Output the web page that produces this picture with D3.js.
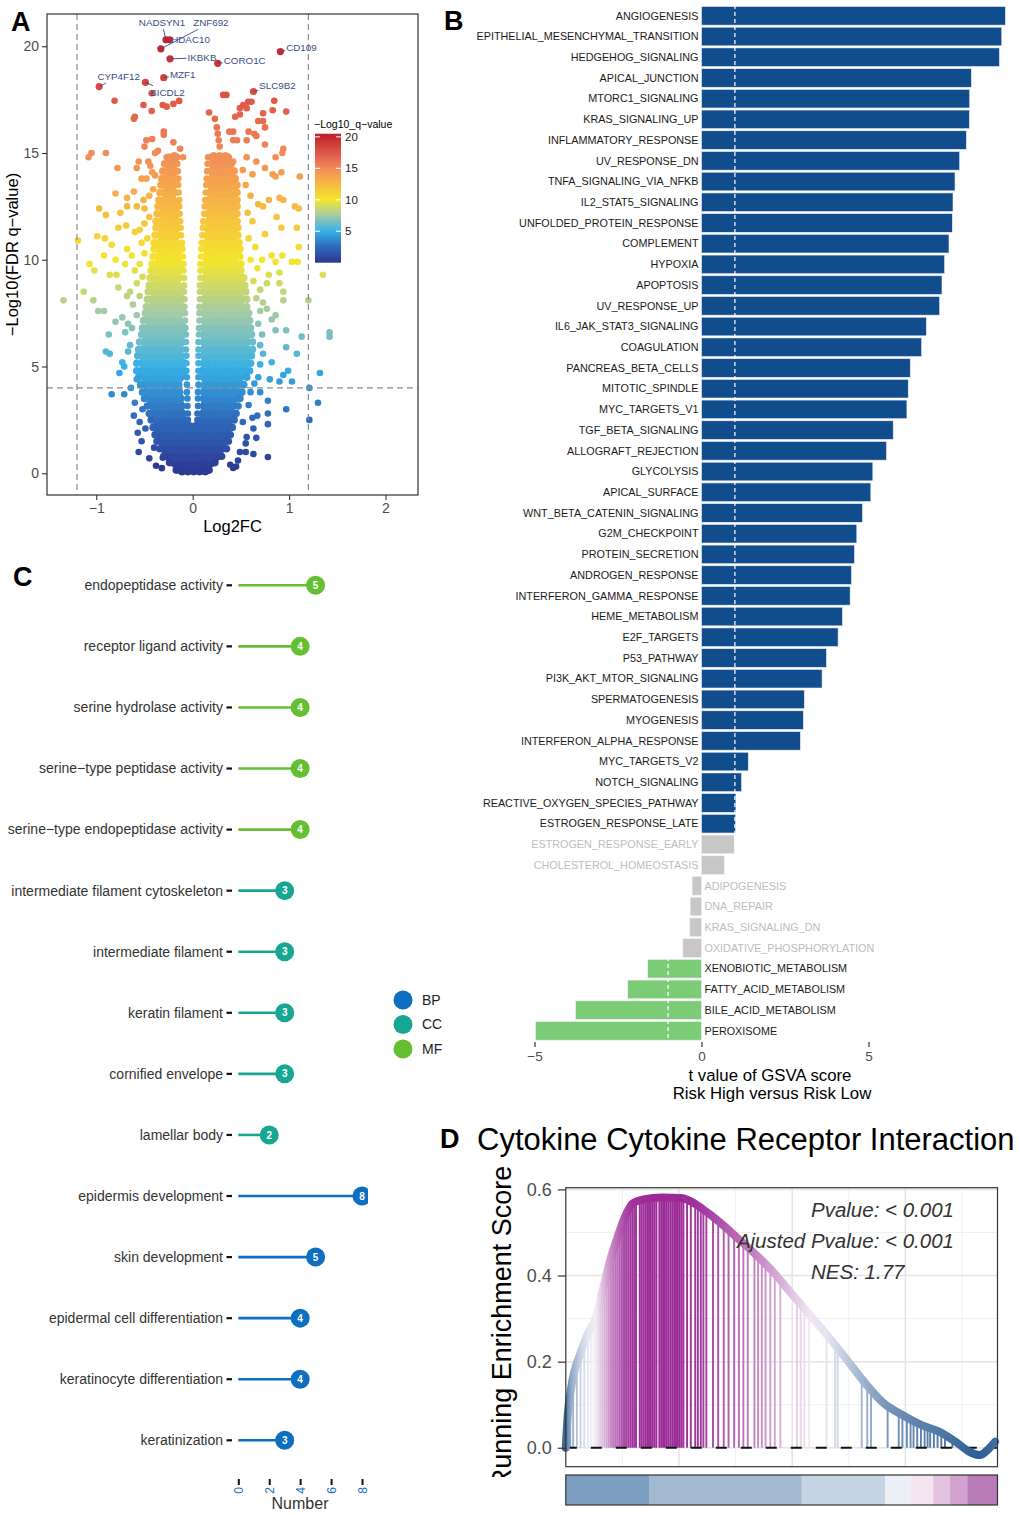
<!DOCTYPE html>
<html lang="en">
<head>
<meta charset="utf-8">
<title>Volcano, GSVA, GO lollipop and GSEA panels</title>
<script src="https://cdn.jsdelivr.net/npm/d3@7"></script>
<style>
  body { margin: 0; background: #fff; }
  svg { display: block; font-family: "Liberation Sans", Arial, sans-serif; }
</style>
</head>
<body>
<script>
// ================= DATA =================

// Panel A: volcano, [log2FC, -log10 q] (outlying points)
const volcanoSparse = [
  [-0.81,17.45],[-0.51,17.25],[-0.425,16.97],[-0.425,17.8],[-0.31,17.25],[-0.27,17.17],[-0.20,17.3],[-0.14,17.44],
  [-0.61,16.6],[-0.60,16.7],[-0.30,16.0],[-0.30,15.85],[-0.48,15.6],[-0.42,15.65],[-0.50,15.3],[-0.20,15.5],[-0.13,15.2],
  [-1.08,14.8],[-1.05,15.0],[-0.90,15.0],[-0.78,14.3],
  [0.17,16.9],[0.23,16.6],[0.25,16.2],[0.26,15.9],[0.27,15.6],
  [0.317,17.72],[0.35,17.72],[0.525,17.25],[0.576,17.4],[0.61,17.4],[0.56,17.1],[0.49,17.1],[0.44,16.7],[0.49,16.8],
  [0.68,16.5],[0.73,16.5],[0.75,16.2],[0.73,16.86],[0.846,17.45],[0.83,17.0],[0.97,16.94],
  [0.38,16.0],[0.42,16.0],[0.42,15.6],[0.46,15.6],[0.58,16.0],[0.64,15.9],[0.66,15.8],[0.56,15.6],[0.28,15.3],[0.75,15.4],
  [0.94,15.2],[0.93,15.0],[0.86,14.8],[1.11,13.9],
  [-0.58,14.3],[-0.53,13.8],[-0.56,14.6],[-0.46,14.6],[-0.48,13.8],[-0.41,13.3],[-0.51,12.8],[-0.58,12.5],[-0.68,12.5],
  [-0.75,12.2],[-0.80,13.1],[-0.68,12.9],[-0.61,13.2],[-0.97,12.4],[-0.90,12.1],[-0.69,11.6],[-0.77,11.5],[-0.60,11.3],
  [-0.84,10.7],[-0.99,11.1],[-0.91,11.0],[-1.19,10.9],[-0.68,10.5],[-0.92,10.2],[-0.80,10.0],[-0.63,10.2],[-1.07,9.8],
  [-1.02,9.5],[-0.86,9.3],[-0.79,9.3],[-0.70,9.8],[-1.13,8.5],[-0.77,8.7],[-0.68,8.3],[-1.03,8.1],[-1.34,8.1],[-0.98,7.6],
  [-0.92,7.6],[-0.80,7.1],[-0.73,7.3],[-0.70,6.6],[-0.87,6.5],[-0.67,7.0],[-0.90,5.7],[-0.86,5.6],[-0.65,6.0],[-0.67,5.7],
  [-0.76,4.7],[-0.71,5.0],[-0.73,5.2],[-0.84,3.7],[-0.71,3.7],[-0.61,2.7],[-0.52,3.0],[-0.57,1.9],[-0.49,2.1],[-0.56,1.0],
  [-0.40,1.2],[-0.32,0.24],[-0.31,0.73],
  [-0.36,15.1],[-0.39,15.0],[-0.27,14.8],[-0.17,14.8],[-0.10,14.8],[-0.42,14.1],[-0.39,13.95],
  [-0.45,12.0],[-0.50,11.7],[-0.47,11.0],[-0.53,10.8],[-0.50,10.3],[-0.55,9.8],[-0.52,9.2],[-0.58,8.9],[-0.55,8.3],
  [-0.62,7.9],[-0.58,7.4],[-0.63,6.8],[-0.45,13.0],[-0.50,12.4],[-0.44,14.4],[-0.55,11.4],[-0.60,9.5],[-0.65,8.5],
  [-0.55,2.4],[-0.53,1.5],[-0.45,0.7],[-0.38,0.35],[-0.60,3.3],[-0.64,4.0],[-0.58,4.4],
  [0.21,14.7],[0.31,14.8],[0.42,14.6],[0.56,14.8],[0.66,14.6],[0.75,14.3],[0.83,14.0],[0.86,13.9],[0.92,14.1],[0.90,12.9],
  [0.94,12.8],[0.79,12.8],[0.73,12.5],[0.87,12.0],[1.06,12.5],[1.10,12.4],[0.92,11.5],[1.08,11.5],[1.10,10.6],[0.82,10.2],
  [0.93,10.2],[0.86,9.9],[1.03,9.9],[1.09,9.9],[0.90,9.4],[1.35,9.3],[0.79,9.3],[0.90,8.9],[0.94,8.5],[0.94,8.1],[1.20,8.1],
  [0.73,8.0],[0.77,7.7],[0.86,7.4],[0.82,7.2],[0.97,6.7],[0.86,6.7],[1.13,6.4],[1.42,6.6],[1.42,6.4],[1.08,5.6],[0.97,5.9],
  [0.82,5.2],[0.99,4.8],[0.94,4.6],[0.90,4.3],[1.03,4.3],[1.32,4.7],[0.80,4.4],[1.21,4.0],[1.30,3.3],[0.97,3.0],[0.78,3.4],
  [0.78,2.8],[1.21,2.5],[0.78,2.3],[0.67,2.7],[0.63,2.1],[0.56,1.7],[0.49,1.0],[0.55,1.0],[0.63,0.9],[0.78,0.76],[0.45,0.32],
  [0.39,0.40],[0.66,1.66],[0.70,3.8],[0.68,4.5],[0.73,5.6],[0.70,5.1],
  [0.55,13.5],[0.60,13.0],[0.57,12.2],[0.62,11.8],[0.58,11.0],[0.65,10.6],[0.60,10.0],[0.67,9.6],[0.63,9.0],[0.70,8.6],
  [0.66,8.2],[0.70,7.6],[0.68,7.0],[0.72,6.5],[0.70,6.0],[0.52,14.2],[0.62,14.0],[0.68,12.6],[0.75,11.2],[0.72,10.0],[0.77,8.9],
  [0.58,3.2],[0.62,2.6],[0.52,2.4],[0.55,1.4],[0.47,0.6],[0.42,0.25],[0.60,3.8],[0.64,4.2]
];

// dense core of the volcano, one row per -log10 q level: "q  log2FC log2FC ..."
const volcanoCoreRows = [
  "0.15 -0.17 -0.11 -0.05 0.01 0.07 0.13 0.17",
  "0.5 -0.24 -0.18 -0.12 -0.06 0 0.06 0.12 0.18 0.23",
  "0.8 -0.30 -0.24 -0.18 -0.12 -0.06 0 0.06 0.12 0.18 0.24 0.30",
  "1.15 -0.34 -0.28 -0.21 -0.15 -0.09 -0.03 0.03 0.09 0.15 0.21 0.28 0.35",
  "1.5 -0.37 -0.31 -0.25 -0.19 -0.13 -0.06 0 0.06 0.12 0.19 0.25 0.31 0.37",
  "1.8 -0.39 -0.33 -0.26 -0.20 -0.13 -0.07 0 0.07 0.13 0.20 0.26 0.33 0.39",
  "2.15 -0.41 -0.35 -0.28 -0.22 -0.15 -0.09 -0.03 0.03 0.09 0.15 0.22 0.28 0.35 0.41",
  "2.5 -0.43 -0.37 -0.30 -0.24 -0.17 -0.11 -0.05 0.05 0.11 0.17 0.24 0.30 0.37 0.43",
  "2.8 -0.45 -0.38 -0.32 -0.25 -0.18 -0.12 -0.05 0.05 0.12 0.18 0.25 0.32 0.38 0.45",
  "3.15 -0.47 -0.40 -0.34 -0.27 -0.20 -0.13 -0.055 0.055 0.13 0.20 0.27 0.34 0.40 0.47",
  "3.5 -0.50 -0.43 -0.36 -0.29 -0.22 -0.14 -0.055 0.055 0.13 0.21 0.28 0.35 0.42 0.49",
  "3.8 -0.52 -0.45 -0.38 -0.31 -0.23 -0.15 -0.06 0.055 0.13 0.21 0.29 0.36 0.44 0.51",
  "4.15 -0.54 -0.47 -0.40 -0.32 -0.24 -0.16 -0.06 0.06 0.14 0.22 0.30 0.38 0.45 0.53",
  "4.5 -0.56 -0.49 -0.42 -0.35 -0.28 -0.21 -0.14 -0.06 0.06 0.13 0.20 0.27 0.34 0.41 0.48 0.56",
  "4.8 -0.58 -0.51 -0.44 -0.37 -0.30 -0.23 -0.17 -0.11 -0.065 0.06 0.12 0.19 0.26 0.33 0.40 0.47 0.53 0.59",
  "5.15 -0.58 -0.51 -0.44 -0.37 -0.30 -0.23 -0.17 -0.11 -0.065 0.06 0.13 0.20 0.27 0.34 0.41 0.48 0.54 0.60",
  "5.5 -0.57 -0.50 -0.43 -0.36 -0.29 -0.22 -0.14 -0.065 0.06 0.13 0.20 0.27 0.34 0.41 0.48 0.55 0.61",
  "5.8 -0.56 -0.49 -0.42 -0.35 -0.28 -0.21 -0.14 -0.07 0.06 0.13 0.20 0.27 0.34 0.41 0.48 0.55 0.62",
  "6.15 -0.55 -0.48 -0.41 -0.34 -0.27 -0.20 -0.13 -0.07 0.06 0.13 0.20 0.27 0.34 0.41 0.48 0.55 0.62",
  "6.5 -0.53 -0.46 -0.39 -0.32 -0.25 -0.18 -0.12 -0.07 0.065 0.13 0.20 0.27 0.34 0.41 0.48 0.55 0.61",
  "6.8 -0.52 -0.45 -0.38 -0.31 -0.24 -0.17 -0.11 -0.075 0.065 0.13 0.20 0.27 0.34 0.41 0.48 0.54 0.60",
  "7.15 -0.51 -0.44 -0.37 -0.30 -0.23 -0.16 -0.08 0.07 0.14 0.21 0.28 0.35 0.42 0.49 0.55 0.59",
  "7.5 -0.49 -0.42 -0.35 -0.28 -0.21 -0.14 -0.08 0.07 0.14 0.21 0.28 0.35 0.42 0.49 0.55 0.58",
  "7.8 -0.48 -0.41 -0.34 -0.27 -0.20 -0.14 -0.085 0.07 0.14 0.21 0.28 0.35 0.42 0.49 0.56",
  "8.15 -0.47 -0.40 -0.33 -0.26 -0.19 -0.13 -0.085 0.075 0.14 0.21 0.28 0.35 0.42 0.49 0.56",
  "8.5 -0.46 -0.39 -0.32 -0.25 -0.18 -0.13 -0.09 0.075 0.14 0.21 0.28 0.35 0.42 0.49 0.55",
  "8.8 -0.45 -0.38 -0.31 -0.24 -0.17 -0.09 0.075 0.14 0.21 0.28 0.35 0.42 0.49 0.54",
  "9.15 -0.44 -0.37 -0.30 -0.23 -0.16 -0.09 0.08 0.15 0.22 0.29 0.36 0.43 0.49 0.53",
  "9.5 -0.43 -0.36 -0.29 -0.22 -0.16 -0.095 0.08 0.15 0.22 0.29 0.36 0.43 0.50",
  "9.8 -0.42 -0.35 -0.28 -0.21 -0.15 -0.095 0.08 0.15 0.22 0.29 0.36 0.43 0.50",
  "10.15 -0.41 -0.34 -0.27 -0.20 -0.15 -0.10 0.085 0.15 0.22 0.29 0.36 0.43 0.49",
  "10.5 -0.40 -0.33 -0.26 -0.20 -0.15 -0.105 0.09 0.16 0.23 0.30 0.37 0.43 0.49",
  "10.8 -0.40 -0.33 -0.26 -0.19 -0.11 0.095 0.16 0.23 0.30 0.37 0.43 0.48",
  "11.15 -0.39 -0.32 -0.25 -0.18 -0.12 0.10 0.17 0.24 0.31 0.37 0.43 0.47",
  "11.5 -0.38 -0.31 -0.24 -0.18 -0.125 0.105 0.17 0.24 0.31 0.37 0.43 0.47",
  "11.8 -0.38 -0.31 -0.24 -0.18 -0.13 0.11 0.18 0.25 0.31 0.37 0.42 0.46",
  "12.15 -0.37 -0.30 -0.23 -0.18 -0.135 0.12 0.18 0.25 0.31 0.37 0.42 0.46",
  "12.5 -0.36 -0.29 -0.23 -0.18 -0.14 0.125 0.19 0.25 0.31 0.37 0.42 0.46",
  "12.8 -0.35 -0.28 -0.22 -0.14 0.13 0.19 0.25 0.31 0.37 0.42 0.46",
  "13.15 -0.34 -0.27 -0.21 -0.145 0.135 0.20 0.26 0.32 0.38 0.43 0.46",
  "13.5 -0.33 -0.27 -0.21 -0.15 0.14 0.20 0.26 0.32 0.38 0.43 0.46",
  "13.8 -0.32 -0.26 -0.21 -0.15 0.145 0.21 0.27 0.33 0.39 0.44",
  "14.15 -0.31 -0.25 -0.20 -0.155 0.15 0.21 0.27 0.33 0.39 0.43",
  "14.5 -0.29 -0.23 -0.16 0.155 0.22 0.28 0.34 0.40",
  "14.8 -0.25 -0.19 -0.16 0.16 0.22 0.28 0.34 0.37"
];

const labeledGenes = [
  {gene: "NADSYN1", log2fc: -0.277, q: 20.3},
  {gene: "HDAC10",  log2fc: -0.24,  q: 20.3},
  {gene: "ZNF692",  log2fc: -0.33,  q: 19.88},
  {gene: "IKBKB",   log2fc: -0.235, q: 19.41},
  {gene: "CORO1C",  log2fc: 0.26,   q: 19.2},
  {gene: "CD109",   log2fc: 0.91,   q: 19.75},
  {gene: "MZF1",    log2fc: -0.30,  q: 18.53},
  {gene: "CYP4F12", log2fc: -0.97,  q: 18.11},
  {gene: "BICDL2",  log2fc: -0.49,  q: 18.31},
  {gene: "SLC9B2",  log2fc: 0.63,   q: 17.88}
];
const volcanoXTicks = [-1, 0, 1, 2];
const volcanoYTicks = [0, 5, 10, 15, 20];
const qLegendTicks = [5, 10, 15, 20];

// Panel B: hallmark GSVA t values
const hallmarks = ["ANGIOGENESIS","EPITHELIAL_MESENCHYMAL_TRANSITION","HEDGEHOG_SIGNALING","APICAL_JUNCTION",
  "MTORC1_SIGNALING","KRAS_SIGNALING_UP","INFLAMMATORY_RESPONSE","UV_RESPONSE_DN","TNFA_SIGNALING_VIA_NFKB",
  "IL2_STAT5_SIGNALING","UNFOLDED_PROTEIN_RESPONSE","COMPLEMENT","HYPOXIA","APOPTOSIS","UV_RESPONSE_UP",
  "IL6_JAK_STAT3_SIGNALING","COAGULATION","PANCREAS_BETA_CELLS","MITOTIC_SPINDLE","MYC_TARGETS_V1",
  "TGF_BETA_SIGNALING","ALLOGRAFT_REJECTION","GLYCOLYSIS","APICAL_SURFACE","WNT_BETA_CATENIN_SIGNALING",
  "G2M_CHECKPOINT","PROTEIN_SECRETION","ANDROGEN_RESPONSE","INTERFERON_GAMMA_RESPONSE","HEME_METABOLISM",
  "E2F_TARGETS","P53_PATHWAY","PI3K_AKT_MTOR_SIGNALING","SPERMATOGENESIS","MYOGENESIS",
  "INTERFERON_ALPHA_RESPONSE","MYC_TARGETS_V2","NOTCH_SIGNALING","REACTIVE_OXYGEN_SPECIES_PATHWAY",
  "ESTROGEN_RESPONSE_LATE","ESTROGEN_RESPONSE_EARLY","CHOLESTEROL_HOMEOSTASIS","ADIPOGENESIS","DNA_REPAIR",
  "KRAS_SIGNALING_DN","OXIDATIVE_PHOSPHORYLATION","XENOBIOTIC_METABOLISM","FATTY_ACID_METABOLISM",
  "BILE_ACID_METABOLISM","PEROXISOME"];
const tValues = [9.10,8.99,8.92,8.08,8.03,8.02,7.93,7.73,7.59,7.53,7.51,7.41,7.28,7.20,7.13,6.73,6.59,6.25,6.19,6.15,
  5.74,5.54,5.13,5.07,4.82,4.65,4.58,4.49,4.45,4.22,4.09,3.74,3.61,3.08,3.05,2.96,1.40,1.20,1.03,1.02,
  0.98,0.68,-0.28,-0.34,-0.35,-0.56,-1.61,-2.21,-3.77,-4.97];
const tGroup = [].concat(Array(40).fill("up"), Array(6).fill("ns"), Array(4).fill("down"));
const tCutoff = 1;
const tTicks = [-5, 0, 5];

// Panel C: GO terms
const goTerms = ["endopeptidase activity","receptor ligand activity","serine hydrolase activity",
  "serine\u2212type peptidase activity","serine\u2212type endopeptidase activity",
  "intermediate filament cytoskeleton","intermediate filament","keratin filament","cornified envelope",
  "lamellar body","epidermis development","skin development","epidermal cell differentiation",
  "keratinocyte differentiation","keratinization"];
const goCounts = [5,4,4,4,4,3,3,3,3,2,8,5,4,4,3];
const goOntology = ["MF","MF","MF","MF","MF","CC","CC","CC","CC","CC","BP","BP","BP","BP","BP"];
const ontologies = ["BP","CC","MF"];
const countTicks = [0, 2, 4, 6, 8];

// Panel D: GSEA running enrichment score
const gseaRank = [0,80,240,650,980,1310,1630,1960,2290,2610,2940,3430,4250,5070,5560,6210,6860,7520,8340,9150,
  9970,10790,11600,12420,13240,14050,14870,15690,16510,17320,17810,18300,18630,18960];
const gseaES = [0,0.072,0.14,0.22,0.265,0.30,0.366,0.436,0.49,0.536,0.567,0.577,0.581,0.580,0.571,0.548,0.521,
  0.49,0.451,0.409,0.358,0.308,0.258,0.204,0.149,0.103,0.076,0.053,0.037,0.010,-0.009,-0.017,-0.005,0.014];
const gseaHits = [80,195,325,489,652,816,979,1110,1224,1306,1388,1469,1551,1633,1714,1796,1878,1959,2041,2123,
  2205,2286,2368,2450,2531,2613,2695,2776,2858,2940,3022,3103,3267,3348,3430,3512,3593,3675,3757,3839,3920,4002,
  4132,4214,4296,4377,4459,4541,4623,4704,4786,4868,4950,5031,5113,5195,5358,5522,5717,5832,5963,6077,6208,6502,
  6731,6976,7188,7433,7646,7842,8038,8332,8495,8659,8822,9035,9231,9476,10211,10375,10538,10751,11519,11895,12009,
  13071,13316,13480,14215,14705,14868,15065,15228,15359,15522,15686,15849,15980,16094,16258,16421,16585,16748,17075];
const geneListSize = 19068;
const rankBreaks = [0,3675,10424,14104,15230,16228,16962,17730,19068];
const rankBandColors = ["#7c9fc1","#a3b9d1","#c6d5e3","#eceff5","#f4e5f1","#e3c3e0","#d3a2cf","#b97cb8"];
const esTicks = [0, 0.2, 0.4, 0.6];
const gseaStats = {p: "Pvalue: < 0.001", padj: "Ajusted Pvalue: < 0.001", nes: "NES: 1.77"};
const gseaTitle = "Cytokine Cytokine Receptor Interaction";

// ================= DRAWING =================
const svg = d3.select("body").append("svg").attr("width", 1020).attr("height", 1515);
const defs = svg.append("defs");

function panelLetter(t, x, y) {
  svg.append("text").attr("x", x).attr("y", y).attr("font-size", 27).attr("font-weight", "bold").text(t);
}

// ---------- A: volcano ----------
const xA = d3.scaleLinear().domain([-1.511, 2.337]).range([47, 418]);
const yA = d3.scaleLinear().domain([-1.017, 21.51]).range([495, 14]);
const qColor = d3.scaleLinear()
  .domain([0, 2.5, 5, 7.5, 10, 12.5, 15, 17.5, 20])
  .range(["#2d3691","#2f68ba","#37b0e6","#a3caa9","#f4e62c","#f7b944","#f18b5a","#de5647","#c0262d"])
  .clamp(true);

defs.append("clipPath").attr("id", "clipA").append("rect")
  .attr("x", 47).attr("y", 14).attr("width", 371).attr("height", 481);

const gA = svg.append("g").attr("clip-path", "url(#clipA)");

// core points: rim points of each wing are drawn normal size, the inside ones larger so the mass reads solid
const corePts = [];
volcanoCoreRows.forEach(r => {
  const v = r.trim().split(/\s+/).map(Number);
  const q = v[0], xs = v.slice(1);
  const hasGap = xs.some(x => x < 0) && xs.some(x => x > 0) && !xs.some(x => Math.abs(x) < 0.045);
  xs.forEach((x, i) => {
    let rim = (i === 0 || i === xs.length - 1) ? "outer" : null;
    if (hasGap && ((x < 0 && xs[i + 1] > 0) || (x > 0 && xs[i - 1] < 0))) rim = "inner";
    corePts.push({x: x, q: q, rim: rim});
  });
});
const coreR = {outer: 3.8, inner: 3.3};

gA.selectAll("circle.core").data(corePts.filter(d => !d.rim)).join("circle").attr("class", "core")
  .attr("cx", d => xA(d.x)).attr("cy", d => yA(d.q)).attr("r", 5.3)
  .attr("fill", d => qColor(d.q));
gA.selectAll("circle.rim").data(corePts.filter(d => d.rim)).join("circle").attr("class", "rim")
  .attr("cx", d => xA(d.x)).attr("cy", d => yA(d.q)).attr("r", d => coreR[d.rim])
  .attr("fill", d => qColor(d.q));
gA.selectAll("circle.sp").data(volcanoSparse).join("circle").attr("class", "sp")
  .attr("cx", d => xA(d[0])).attr("cy", d => yA(d[1])).attr("r", 3.3)
  .attr("fill", d => qColor(d[1]));

// threshold lines
gA.append("line").attr("x1", xA(-1.2)).attr("x2", xA(-1.2)).attr("y1", 14).attr("y2", 495);
gA.append("line").attr("x1", xA(1.2)).attr("x2", xA(1.2)).attr("y1", 14).attr("y2", 495);
gA.append("line").attr("x1", 47).attr("x2", 418).attr("y1", yA(4)).attr("y2", yA(4));
gA.selectAll("line").attr("stroke", "#8a8a8a").attr("stroke-width", 1.2).attr("stroke-dasharray", "6,4");

gA.selectAll("circle.lab").data(labeledGenes).join("circle").attr("class", "lab")
  .attr("cx", d => xA(d.log2fc)).attr("cy", d => yA(d.q)).attr("r", 3.6)
  .attr("fill", d => qColor(d.q));

// repel-style label placement (pixel nudges)
const labelNudge = {NADSYN1: [-4, -17], HDAC10: [21, 0], ZNF692: [50, -26], IKBKB: [32, -1], CORO1C: [27, -3],
  CD109: [21, -4], MZF1: [19, -3], CYP4F12: [19.5, -10], BICDL2: [22, 10], SLC9B2: [24, -6]};
labeledGenes.forEach(d => {
  const px = xA(d.log2fc), py = yA(d.q);
  const cx = px + labelNudge[d.gene][0], cy = py + labelNudge[d.gene][1];
  const t = svg.append("text").attr("x", cx).attr("y", cy).attr("dy", "0.35em")
    .attr("text-anchor", "middle").attr("font-size", 9.8).attr("fill", "#3a4d86").text(d.gene);
  const b = t.node().getBBox();
  const bx = b.x + b.width / 2, by = b.y + b.height / 2;
  const dx = px - bx, dy = py - by;
  const s = Math.min(dx ? (b.width / 2 + 1) / Math.abs(dx) : Infinity, dy ? (b.height / 2 + 1) / Math.abs(dy) : Infinity);
  if (s < 0.85) {
    svg.append("line").attr("x1", bx + dx * s).attr("y1", by + dy * s).attr("x2", px).attr("y2", py)
      .attr("stroke", "#3a4d86").attr("stroke-width", 0.9);
  }
});

svg.append("rect").attr("x", 47).attr("y", 14).attr("width", 371).attr("height", 481)
  .attr("fill", "none").attr("stroke", "#333").attr("stroke-width", 1.2);

const axA_x = svg.append("g").attr("transform", "translate(0,495)")
  .call(d3.axisBottom(xA).tickValues(volcanoXTicks).tickFormat(d3.format("d")).tickSize(5).tickPadding(3));
const axA_y = svg.append("g").attr("transform", "translate(47,0)")
  .call(d3.axisLeft(yA).tickValues(volcanoYTicks).tickSize(5).tickPadding(3));
[axA_x, axA_y].forEach(g => {
  g.select(".domain").remove();
  g.selectAll("line").attr("stroke", "#333").attr("stroke-width", 1.1);
  g.selectAll("text").attr("font-size", 14).attr("fill", "#4d4d4d").attr("font-family", null);
});
svg.append("text").attr("x", 232.5).attr("y", 532).attr("text-anchor", "middle").attr("font-size", 16.5).text("Log2FC");
svg.append("text").attr("transform", "translate(18,254.5) rotate(-90)").attr("text-anchor", "middle")
  .attr("font-size", 16.5).text("\u2212Log10(FDR q\u2212value)");

// colour bar legend
const qLeg = d3.scaleLinear().domain([0, 20.5]).range([262.7, 133.7]);
const grad = defs.append("linearGradient").attr("id", "qgrad").attr("x1", 0).attr("x2", 0).attr("y1", 1).attr("y2", 0);
d3.range(0, 20.51, 0.5).forEach(v => grad.append("stop").attr("offset", v / 20.5).attr("stop-color", qColor(v)));
svg.append("rect").attr("x", 315).attr("y", 133.7).attr("width", 26).attr("height", 129).attr("fill", "url(#qgrad)");
qLegendTicks.forEach(v => {
  [[315, 320], [336, 341]].forEach(s => svg.append("line").attr("x1", s[0]).attr("x2", s[1])
    .attr("y1", qLeg(v)).attr("y2", qLeg(v)).attr("stroke", "#fff").attr("stroke-width", 1));
  svg.append("text").attr("x", 345).attr("y", qLeg(v)).attr("dy", "0.35em").attr("font-size", 11.5)
    .attr("fill", "#222").text(v);
});
svg.append("text").attr("x", 314).attr("y", 128).attr("font-size", 10.5).text("\u2212Log10_q\u2212value");
panelLetter("A", 11, 31);

// ---------- B: GSVA bars ----------
const xB = d3.scaleLinear().domain([-5, 5]).range([534.5, 868.5]);
const yB = d3.scaleBand().domain(hallmarks).range([5.45, 1041.2]).paddingInner(0.1).paddingOuter(0.05);
const barFill = {up: "#114d8c", ns: "#c9c6c6", down: "#7bcb77"};
const labFill = {up: "#1a1a1a", ns: "#bdbdbd", down: "#1a1a1a"};
const gsva = hallmarks.map((h, i) => ({name: h, t: tValues[i], g: tGroup[i]}));

svg.append("g").selectAll("rect").data(gsva).join("rect")
  .attr("x", d => xB(Math.min(0, d.t))).attr("width", d => Math.abs(xB(d.t) - xB(0)))
  .attr("y", d => yB(d.name)).attr("height", yB.bandwidth())
  .attr("fill", d => barFill[d.g]).attr("stroke", "#eef2f8").attr("stroke-width", 0.6);

[-tCutoff, tCutoff].forEach(v => svg.append("line").attr("x1", xB(v)).attr("x2", xB(v))
  .attr("y1", 5).attr("y2", 1041).attr("stroke", "#fff").attr("stroke-width", 1.2).attr("stroke-dasharray", "4,3"));

svg.append("g").selectAll("text").data(gsva).join("text")
  .attr("x", d => d.t >= 0 ? xB(0) - 3 : xB(0) + 3)
  .attr("y", d => yB(d.name) + yB.bandwidth() / 2).attr("dy", "0.35em")
  .attr("text-anchor", d => d.t >= 0 ? "end" : "start")
  .attr("font-size", 10.8).attr("fill", d => labFill[d.g]).text(d => d.name);

const axB = svg.append("g").attr("transform", "translate(0,1042)")
  .call(d3.axisBottom(xB).tickValues(tTicks).tickSize(5).tickPadding(4));
axB.select(".domain").remove();
axB.selectAll("line").attr("stroke", "#333").attr("stroke-width", 1.2);
axB.selectAll("text").attr("font-size", 13.5).attr("fill", "#4d4d4d").attr("font-family", null);
svg.append("text").attr("x", 770).attr("y", 1081).attr("text-anchor", "middle").attr("font-size", 16.8)
  .text("t value of GSVA score");
svg.append("text").attr("x", 772).attr("y", 1099).attr("text-anchor", "middle").attr("font-size", 16.8)
  .text("Risk High versus Risk Low");
panelLetter("B", 444, 30);

// ---------- C: GO lollipop ----------
const xC = d3.scaleLinear().domain([0, 8]).range([238.3, 362]);
const yC = d3.scalePoint().domain(goTerms).range([585.3, 1440.3]);
const ontColor = d3.scaleOrdinal().domain(ontologies).range(["#0e6ebf", "#17a691", "#64bf32"]);
const go = goTerms.map((t, i) => ({term: t, n: goCounts[i], ont: goOntology[i]}));

defs.append("clipPath").attr("id", "clipC").append("rect")
  .attr("x", 230).attr("y", 560).attr("width", 138).attr("height", 900);
const gC = svg.append("g").attr("clip-path", "url(#clipC)");
gC.selectAll("line").data(go).join("line")
  .attr("x1", xC(0)).attr("x2", d => xC(d.n)).attr("y1", d => yC(d.term)).attr("y2", d => yC(d.term))
  .attr("stroke", d => ontColor(d.ont)).attr("stroke-width", 2.6);
gC.selectAll("circle").data(go).join("circle")
  .attr("cx", d => xC(d.n)).attr("cy", d => yC(d.term)).attr("r", 9.5).attr("fill", d => ontColor(d.ont));
gC.selectAll("text").data(go).join("text")
  .attr("x", d => xC(d.n)).attr("y", d => yC(d.term)).attr("dy", "0.36em").attr("text-anchor", "middle")
  .attr("font-size", 10).attr("font-weight", "bold").attr("fill", "#fff").text(d => d.n);

svg.append("g").selectAll("line").data(go).join("line")
  .attr("x1", 226.5).attr("x2", 232).attr("y1", d => yC(d.term)).attr("y2", d => yC(d.term))
  .attr("stroke", "#111").attr("stroke-width", 2.2);
svg.append("g").selectAll("text").data(go).join("text")
  .attr("x", 223).attr("y", d => yC(d.term)).attr("dy", "0.35em").attr("text-anchor", "end")
  .attr("font-size", 14).attr("fill", "#333").text(d => d.term);

const axC = svg.append("g").attr("transform", "translate(0,1479)")
  .call(d3.axisBottom(xC).tickValues(countTicks).tickSize(6).tickPadding(2));
axC.select(".domain").remove();
axC.selectAll("line").attr("stroke", "#111").attr("stroke-width", 2);
axC.selectAll("text").attr("font-size", 12).attr("fill", "#1a6fbe").attr("font-family", null)
  .attr("text-anchor", "end").attr("dy", "0.35em").attr("y", 0)
  .attr("transform", "translate(0,8) rotate(-90)");
svg.append("text").attr("x", 300).attr("y", 1509).attr("text-anchor", "middle").attr("font-size", 16)
  .attr("fill", "#333").text("Number");

ontologies.forEach((o, i) => {
  const cy = 1000 + i * 24.5;
  svg.append("circle").attr("cx", 403).attr("cy", cy).attr("r", 9.5).attr("fill", ontColor(o));
  svg.append("text").attr("x", 422).attr("y", cy).attr("dy", "0.35em").attr("font-size", 14).attr("fill", "#222").text(o);
});
panelLetter("C", 13, 586);

// ---------- D: GSEA ----------
const xD = d3.scaleLinear().domain([0, geneListSize]).range([565.8, 997.5]);
const yD = d3.scaleLinear().domain([-0.044, 0.604]).range([1466.7, 1187.7]);
const esColor = d3.scaleLinear().domain([-0.02, 0.29, 0.58]).range(["#2c5d95", "#f6f3f8", "#9b2a97"]).clamp(true);

svg.append("rect").attr("x", 565.8).attr("y", 1187.7).attr("width", 431.7).attr("height", 279).attr("fill", "#fff");
const gGrid = svg.append("g");
[0.1, 0.3, 0.5].forEach(v => gGrid.append("line").attr("x1", 565.8).attr("x2", 997.5)
  .attr("y1", yD(v)).attr("y2", yD(v)).attr("stroke", "#ececec").attr("stroke-width", 0.8));
[2500, 7500, 12500, 17500].forEach(v => gGrid.append("line").attr("x1", xD(v)).attr("x2", xD(v))
  .attr("y1", 1187.7).attr("y2", 1466.7).attr("stroke", "#ececec").attr("stroke-width", 0.8));
esTicks.forEach(v => gGrid.append("line").attr("x1", 565.8).attr("x2", 997.5)
  .attr("y1", yD(v)).attr("y2", yD(v)).attr("stroke", "#e4e4e4").attr("stroke-width", 1.5));
[5000, 10000, 15000].forEach(v => gGrid.append("line").attr("x1", xD(v)).attr("x2", xD(v))
  .attr("y1", 1187.7).attr("y2", 1466.7).attr("stroke", "#e4e4e4").attr("stroke-width", 1.5));

function esAt(r) {
  const i = d3.bisectLeft(gseaRank, r);
  if (i <= 0) return gseaES[0];
  if (i >= gseaRank.length) return gseaES[gseaES.length - 1];
  const f = (r - gseaRank[i - 1]) / (gseaRank[i] - gseaRank[i - 1]);
  return gseaES[i - 1] + f * (gseaES[i] - gseaES[i - 1]);
}
svg.append("g").selectAll("line").data(gseaHits).join("line")
  .attr("x1", d => xD(d)).attr("x2", d => xD(d)).attr("y1", yD(0)).attr("y2", d => yD(esAt(d)))
  .attr("stroke", d => esColor(esAt(d))).attr("stroke-width", 1.9);

svg.append("line").attr("x1", 565.8).attr("x2", 997.5).attr("y1", yD(0)).attr("y2", yD(0))
  .attr("stroke", "#111").attr("stroke-width", 2).attr("stroke-dasharray", "11,14");

const esGrad = defs.append("linearGradient").attr("id", "esgrad").attr("gradientUnits", "userSpaceOnUse")
  .attr("x1", xD(0)).attr("x2", xD(geneListSize)).attr("y1", 0).attr("y2", 0);
gseaRank.forEach((r, i) => esGrad.append("stop").attr("offset", r / geneListSize).attr("stop-color", esColor(gseaES[i])));
const esLine = d3.line().x(d => xD(d[0])).y(d => yD(d[1])).curve(d3.curveMonotoneX);
svg.append("path").datum(gseaRank.map((r, i) => [r, gseaES[i]])).attr("d", esLine)
  .attr("fill", "none").attr("stroke", "url(#esgrad)").attr("stroke-width", 8).attr("stroke-linecap", "round");

svg.append("rect").attr("x", 565.8).attr("y", 1187.7).attr("width", 431.7).attr("height", 279)
  .attr("fill", "none").attr("stroke", "#333").attr("stroke-width", 1.2);

svg.append("text").attr("x", 954).attr("y", 1217).attr("text-anchor", "end").attr("font-size", 20.5)
  .attr("font-style", "italic").attr("fill", "#333").text(gseaStats.p);
svg.append("text").attr("x", 954).attr("y", 1248).attr("text-anchor", "end").attr("font-size", 20.5)
  .attr("font-style", "italic").attr("fill", "#333").text(gseaStats.padj);
svg.append("text").attr("x", 811).attr("y", 1279).attr("font-size", 20.5)
  .attr("font-style", "italic").attr("fill", "#333").text(gseaStats.nes);

const axD = svg.append("g").attr("transform", "translate(565.8,0)")
  .call(d3.axisLeft(yD).tickValues(esTicks).tickFormat(d3.format(".1f")).tickSize(8).tickPadding(6));
axD.select(".domain").remove();
axD.selectAll("line").attr("stroke", "#333").attr("stroke-width", 1.2);
axD.selectAll("text").attr("font-size", 18).attr("fill", "#4d4d4d").attr("font-family", null);

// y title of the GSEA panel, cut off at the bottom as in the figure
defs.append("clipPath").attr("id", "clipDt").append("rect")
  .attr("x", 470).attr("y", 1150).attr("width", 60).attr("height", 327);
svg.append("g").attr("clip-path", "url(#clipDt)")
  .append("text").attr("transform", "translate(511,1327) rotate(-90)").attr("text-anchor", "middle")
  .attr("font-size", 27).text("Running Enrichment Score");

// rank heat strip
svg.append("g").selectAll("rect").data(rankBandColors).join("rect")
  .attr("x", (c, i) => xD(rankBreaks[i])).attr("width", (c, i) => xD(rankBreaks[i + 1]) - xD(rankBreaks[i]))
  .attr("y", 1475).attr("height", 30).attr("fill", c => c);
svg.append("rect").attr("x", 565.8).attr("y", 1475).attr("width", 431.7).attr("height", 30)
  .attr("fill", "none").attr("stroke", "#333").attr("stroke-width", 1.2);

svg.append("text").attr("x", 477).attr("y", 1150).attr("font-size", 31).text(gseaTitle);
panelLetter("D", 440, 1148);
</script>
</body>
</html>
